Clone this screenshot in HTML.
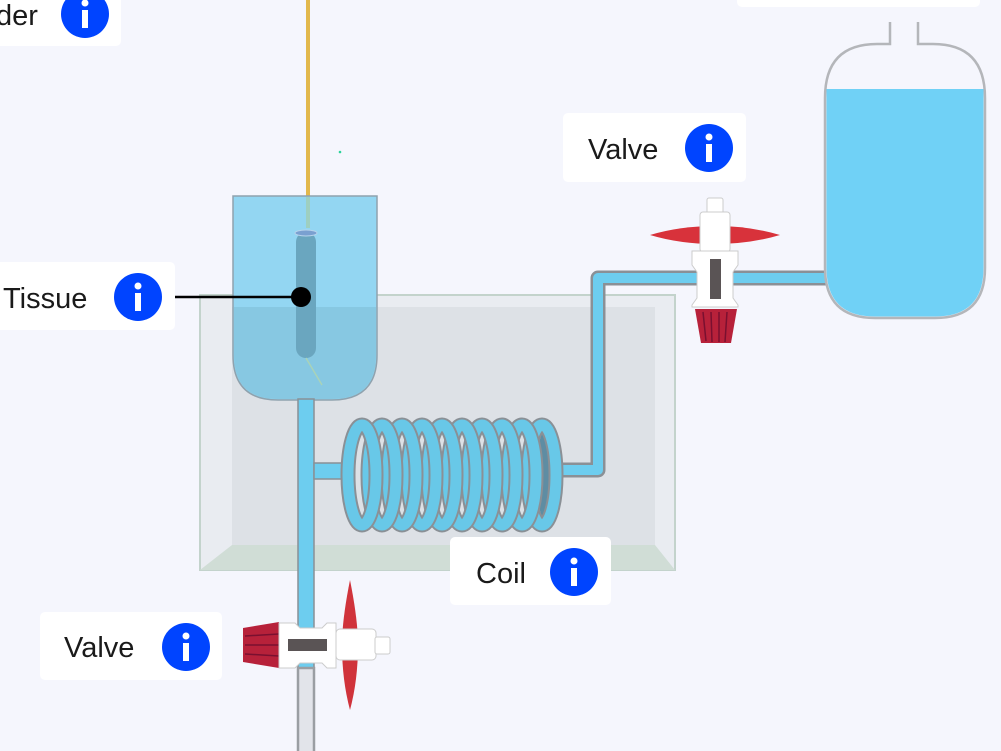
<!DOCTYPE html>
<html><head><meta charset="utf-8"><style>
html,body{margin:0;padding:0;background:#f5f6fd;}
svg{display:block}
text{font-family:"Liberation Sans","DejaVu Sans",sans-serif;fill:#1a1a1a}
</style></head><body>
<svg width="1001" height="751" viewBox="0 0 1001 751" xmlns="http://www.w3.org/2000/svg">
<defs>
<g id="info"><circle r="24" fill="#0044ff"/><circle cx="0" cy="-11" r="3.5" fill="#fff"/><rect x="-3" y="-4" width="6" height="18" fill="#fff"/></g>
<g id="ring" fill="none"><ellipse rx="14" ry="50" stroke="#8a9096" stroke-width="15"/><ellipse rx="14" ry="50" stroke="#68c8e8" stroke-width="11"/></g>
</defs>
<rect width="1001" height="751" fill="#f5f6fd"/>

<rect x="-10" y="-10" width="131" height="56" rx="5" fill="#fff"/>
<text x="-4" y="25" font-size="29">der</text>
<use href="#info" x="85" y="14"/>

<rect x="737" y="-10" width="243" height="17" rx="5" fill="#fff"/>

<line x1="308" y1="0" x2="308" y2="197" stroke="#e2b84c" stroke-width="4"/>
<circle cx="340" cy="152" r="1.3" fill="#2bd39a"/>

<rect x="200" y="295" width="475" height="275" fill="#e9ecf1" stroke="#c3d3cc" stroke-width="2"/>
<rect x="232" y="307" width="423" height="238" fill="#dde1e6"/>
<path d="M200 570 L232 545 H655 L675 570 Z" fill="#d0ddd6"/>

<path d="M233 196 V355 Q233 400 278 400 H332 Q377 400 377 355 V196 Z" fill="#93d6f2" stroke="#8fa2ae" stroke-width="1.5"/>
<path d="M234 307 V355 Q234 399 278 399 H332 Q376 399 376 355 V307 Z" fill="#87c8e2"/>
<line x1="308" y1="197" x2="308" y2="228" stroke="#9ecfc0" stroke-width="4"/>
<rect x="298" y="399" width="16" height="270" fill="#6dcdef" stroke="#8a9096" stroke-width="1.5"/>

<path d="M560 470 L598 470 V278 H837" fill="none" stroke="#8a9096" stroke-width="15" stroke-linejoin="round"/>
<path d="M560 470 L598 470 V278 H837" fill="none" stroke="#6dcdef" stroke-width="10" stroke-linejoin="round"/>
<rect x="314" y="463" width="34" height="16" fill="#6dcdef" stroke="#8a9096" stroke-width="1.5"/>

<ellipse cx="548" cy="475" rx="12" ry="48" fill="#5e8da3"/>
<use href="#ring" x="542" y="475"/>
<use href="#ring" x="522" y="475"/>
<use href="#ring" x="502" y="475"/>
<use href="#ring" x="482" y="475"/>
<use href="#ring" x="462" y="475"/>
<use href="#ring" x="442" y="475"/>
<use href="#ring" x="422" y="475"/>
<use href="#ring" x="402" y="475"/>
<use href="#ring" x="382" y="475"/>
<use href="#ring" x="362" y="475"/>

<rect x="296" y="232" width="20" height="126" rx="10" fill="#6aa6bf"/>
<ellipse cx="306" cy="233" rx="11" ry="3" fill="#7aa0d0" stroke="#b8d4ec" stroke-width="1"/>
<line x1="306" y1="358" x2="322" y2="385" stroke="#a9d3b8" stroke-width="1.5"/>

<rect x="-10" y="262" width="185" height="68" rx="5" fill="#fff"/>
<text x="3" y="308" font-size="29">Tissue</text>
<use href="#info" x="138" y="297"/>
<line x1="175" y1="297" x2="301" y2="297" stroke="#000" stroke-width="2.5"/>
<circle cx="301" cy="297" r="10" fill="#000"/>

<path d="M890 22 V44 H877 Q825 44 825 98 V268 Q825 318 875 318 H935 Q985 318 985 268 V98 Q985 44 933 44 H918 V22" fill="#f5f6fd" stroke="#b4b6ba" stroke-width="2.5"/>
<path d="M826.5 89 H983.5 V268 Q983.5 316.5 935 316.5 H875 Q826.5 316.5 826.5 268 Z" fill="#70d1f6"/>

<rect x="563" y="113" width="183" height="69" rx="5" fill="#fff"/>
<text x="588" y="159" font-size="29">Valve</text>
<use href="#info" x="709" y="148"/>

<path d="M650 235 Q680 226 715 226 Q750 226 780 235 Q750 244 715 244 Q680 244 650 235 Z" fill="#d8323b"/>
<rect x="707" y="198" width="16" height="16" rx="2" fill="#fff" stroke="#ccc"/>
<rect x="700" y="212" width="30" height="40" rx="3" fill="#fff" stroke="#ccc"/>
<path d="M692 251 H738 V265 L733 272 V298 L738 305 V307 H692 V305 L697 298 V272 L692 265 Z" fill="#fff" stroke="#ccc"/>
<rect x="710" y="259" width="11" height="40" fill="#5a5455"/>
<path d="M695 309 H737 L731 343 H701 Z" fill="#b7213a"/>
<path d="M703 312 L706 341 M711 312 L712 342 M719 312 L719 342 M727 312 L725 342" stroke="#7a1030" stroke-width="1.5"/>

<rect x="450" y="537" width="161" height="68" rx="5" fill="#fff"/>
<text x="476" y="583" font-size="29">Coil</text>
<use href="#info" x="574" y="572"/>

<rect x="298" y="668" width="16" height="90" fill="#e2e4ea" stroke="#9a9ea3" stroke-width="2.5"/>

<path d="M350 580 Q358 620 358 645 Q358 680 350 710 Q342 680 342 645 Q342 620 350 580 Z" fill="#d0333b"/>
<path d="M243 628 L279 622 V668 L243 662 Z" fill="#b7213a"/>
<path d="M245 636 L279 634 M245 645 L279 645 M245 654 L279 656" stroke="#7a1030" stroke-width="1.5"/>
<path d="M279 623 H295 L300 628 H322 L327 623 H336 V668 H327 L322 663 H300 L295 668 H279 Z" fill="#fff" stroke="#ccc"/>
<rect x="288" y="639" width="39" height="12" fill="#5a5455"/>
<rect x="336" y="629" width="40" height="31" rx="4" fill="#fff" stroke="#ccc"/>
<rect x="375" y="637" width="15" height="17" rx="2" fill="#fff" stroke="#ccc"/>

<rect x="40" y="612" width="182" height="68" rx="5" fill="#fff"/>
<text x="64" y="657" font-size="29">Valve</text>
<use href="#info" x="186" y="647"/>
</svg>
</body></html>
